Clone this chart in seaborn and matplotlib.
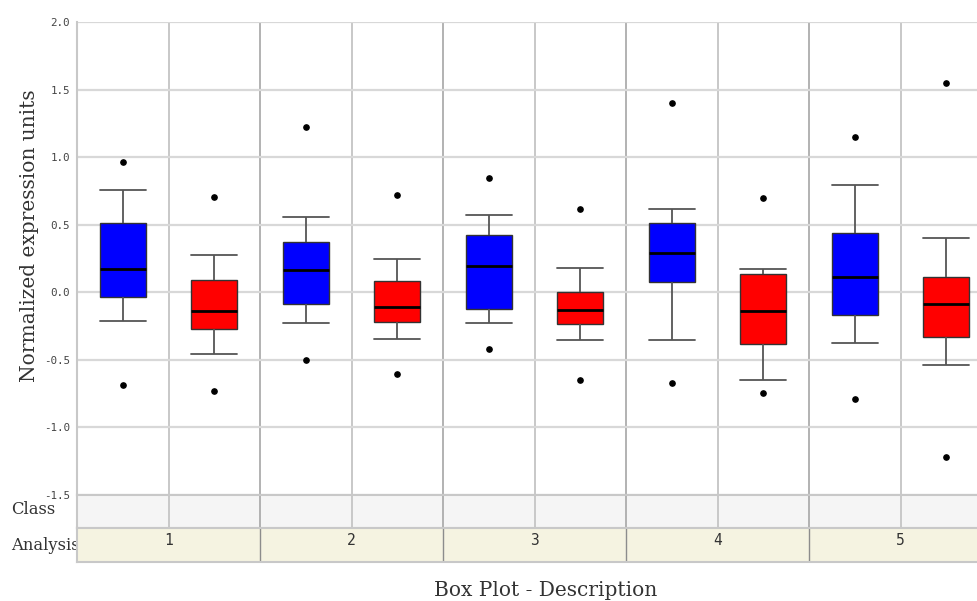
import numpy as np
import pandas as pd
import matplotlib
matplotlib.use("Agg")
import matplotlib.pyplot as plt
import seaborn as sns

# ---- data -------------------------------------------------------------
analyses = ["1", "2", "3", "4", "5"]
classes = ["Class A", "Class B"]
box_colors = ["#0000ff", "#ff0000"]
y_ticks = [-1.5, -1.0, -0.5, 0.0, 0.5, 1.0, 1.5, 2.0]

# per-analysis summaries for the blue class
blue_outlier_low = [-0.684, -0.504, -0.420, -0.669, -0.788]
blue_whisker_low = [-0.211, -0.228, -0.226, -0.356, -0.374]
blue_q1 = [-0.038, -0.083, -0.127, 0.073, -0.169]
blue_median = [0.172, 0.166, 0.196, 0.290, 0.115]
blue_q3 = [0.514, 0.374, 0.423, 0.514, 0.442]
blue_whisker_high = [0.758, 0.558, 0.573, 0.615, 0.793]
blue_outlier_high = [0.963, 1.222, 0.842, 1.402, 1.148]

# per-analysis summaries for the red class
red_outlier_low = [-0.734, -0.608, -0.647, -0.748, -1.219]
red_whisker_low = [-0.457, -0.346, -0.351, -0.647, -0.536]
red_q1 = [-0.270, -0.223, -0.238, -0.386, -0.334]
red_median = [-0.137, -0.110, -0.132, -0.137, -0.090]
red_q3 = [0.092, 0.080, 0.004, 0.134, 0.112]
red_whisker_high = [0.275, 0.250, 0.183, 0.174, 0.405]
red_outlier_high = [0.706, 0.723, 0.615, 0.697, 1.550]

summaries = {
    classes[0]: (blue_outlier_low, blue_whisker_low, blue_q1, blue_median,
                 blue_q3, blue_whisker_high, blue_outlier_high),
    classes[1]: (red_outlier_low, red_whisker_low, red_q1, red_median,
                 red_q3, red_whisker_high, red_outlier_high),
}

# nine observations per box: quartiles land exactly on indices 2, 4, 6,
# whiskers (10th/90th percentile rule) end on the 2nd and 8th values
rows = []
for cls, (olo, wlo, q1, med, q3, whi, ohi) in summaries.items():
    for i, a in enumerate(analyses):
        obs = [olo[i], wlo[i], q1[i], q1[i], med[i], q3[i], q3[i], whi[i], ohi[i]]
        rows += [{"analysis": a, "cls": cls, "value": v} for v in obs]
df = pd.DataFrame(rows)

# ---- figure -----------------------------------------------------------
sns.set_theme(style="white")
plt.rcParams["font.family"] = ["DejaVu Serif", "DejaVu Sans"]

W, H = 977, 601
fig = plt.figure(figsize=(W / 100, H / 100), dpi=100)
fig.patch.set_facecolor("white")

left, right = 77, 992
ax = fig.add_axes([left / W, 1 - 495 / H, (right - left) / W, (495 - 22) / H])
class_ax = fig.add_axes([left / W, 1 - 528 / H, (right - left) / W, 33 / H])
anal_ax = fig.add_axes([left / W, 1 - 562 / H, (right - left) / W, 34 / H])

sns.boxplot(
    data=df, x="analysis", y="value", hue="cls",
    order=analyses, hue_order=classes,
    palette=dict(zip(classes, box_colors)), saturation=1,
    width=1.0, gap=0.5, whis=(10, 90),
    linecolor="#333333", linewidth=1.0, fliersize=3.8,
    flierprops=dict(marker="o", markerfacecolor="black", markeredgecolor="black"),
    medianprops=dict(color="black", linewidth=2.0),
    whiskerprops=dict(color="#555555", linewidth=1.3),
    capprops=dict(color="#555555", linewidth=1.3),
    capwidths=0.25,
    legend=False, ax=ax,
)

grid_light = "#d8d8d8"
grid_dark = "#a6a6a6"
centers = np.arange(len(analyses))
bounds = centers[:-1] + 0.5

ax.set_xlim(-0.5, len(analyses) - 0.5)
ax.set_ylim(y_ticks[0], y_ticks[-1])
ax.set_yticks(y_ticks)
ax.set_yticklabels([f"{t:.1f}" for t in y_ticks], family="DejaVu Sans Mono",
                   fontsize=7.8, color="#444444")
ax.set_xticks(centers)
ax.set_xticks(bounds, minor=True)
ax.set_xticklabels([])
ax.tick_params(axis="both", which="both", length=0, pad=5)
ax.grid(axis="y", which="major", color=grid_light, linewidth=1.6)
ax.grid(axis="x", which="major", color="#c8c8c8", linewidth=1.4)
ax.grid(axis="x", which="minor", color=grid_dark, linewidth=1.2)
ax.set_axisbelow(True)
ax.set_xlabel("")
ax.set_ylabel("")
for side in ["top", "right", "bottom"]:
    ax.spines[side].set_visible(False)
ax.spines["left"].set_color("#c8c8c8")
ax.spines["left"].set_linewidth(1.5)

# "Class" strip
class_ax.set_facecolor("#f5f5f5")
class_ax.set_xlim(-0.5, len(analyses) - 0.5)
class_ax.set_ylim(0, 1)
for c in centers:
    class_ax.axvline(c, color="#c8c8c8", linewidth=1.4)
for b in bounds:
    class_ax.axvline(b, color=grid_dark, linewidth=1.2)
class_ax.set_xticks([])
class_ax.set_yticks([])
for s in class_ax.spines.values():
    s.set_color("#c8c8c8")
    s.set_linewidth(1.5)
class_ax.spines["right"].set_visible(False)

# "Analysis" strip with the analysis labels
anal_ax.set_facecolor("#f5f3e1")
anal_ax.set_xlim(-0.5, len(analyses) - 0.5)
anal_ax.set_ylim(0, 1)
for b in bounds:
    anal_ax.axvline(b, color="#8c8c8c", linewidth=1.0)
for c, a in zip(centers, analyses):
    anal_ax.text(c, 0.62, a, ha="center", va="center", family="DejaVu Sans Mono",
                 fontsize=10.5, color="#333333")
anal_ax.set_xticks([])
anal_ax.set_yticks([])
for s in anal_ax.spines.values():
    s.set_color("#c8c8c8")
    s.set_linewidth(1.5)
anal_ax.spines["right"].set_visible(False)

# row captions and titles
fig.text(11 / W, 1 - 510 / H, "Class", ha="left", va="center",
         fontsize=11.8, color="#333333", zorder=-1)
fig.text(11 / W, 1 - 545 / H, "Analysis", ha="left", va="center",
         fontsize=11.8, color="#333333", zorder=-1)
fig.text(30 / W, 1 - 236 / H, "Normalized expression units", rotation=90,
         ha="center", va="center", fontsize=14.5, color="#333333")
fig.text(546 / W, 1 - 590 / H, "Box Plot - Description", ha="center",
         va="center", fontsize=14.5, color="#333333")

fig.savefig("out.png", dpi=100, facecolor="white")
